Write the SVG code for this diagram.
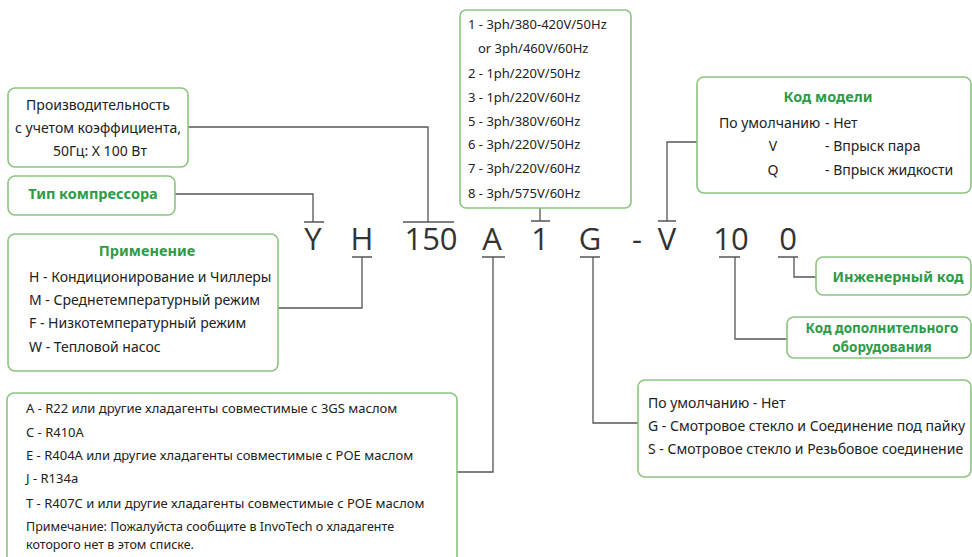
<svg xmlns="http://www.w3.org/2000/svg" width="972" height="557" viewBox="0 0 972 557">
<style>
.box{fill:#fff;stroke:#8cc47f;stroke-width:1.6}
.t{font-family:"Noto Sans","Open Sans","DejaVu Sans",sans-serif;font-size:14px;fill:#222}
.s{font-size:13px}
.n{font-size:12.5px}
.g{font-family:"Noto Sans","Open Sans","DejaVu Sans",sans-serif;font-size:14.5px;font-weight:bold;fill:#2e9b46}
.g2{font-size:13.5px}
.c{font-family:"Open Sans","Noto Sans",sans-serif;font-size:31px;font-weight:400;fill:#333}
.m{text-anchor:middle}
.ln{fill:none;stroke:#555;stroke-width:1.3}
</style>
<rect width="972" height="557" fill="#fff"/>
<g id="connectors">
<path class="ln" d="M188 127 H428 V222 M403 222 H454"/>
<path class="ln" d="M175 194 H313 V222 M304 222 H324"/>
<path class="ln" d="M352 257 H372 M362 257 V308 H278"/>
<path class="ln" d="M540 208 V221 M531 221 H550"/>
<path class="ln" d="M482 257 H505 M493 257 V472 H457"/>
<path class="ln" d="M580 257 H600 M593 257 V423 H638"/>
<path class="ln" d="M658 221 H676 M667 221 V142 H697"/>
<path class="ln" d="M719 257 H740 M735 257 V339 H787"/>
<path class="ln" d="M778 257 H798 M794 257 V277 H816"/>
</g>
<g id="code">
<text class="c m" x="313" y="250">Y</text>
<text class="c m" x="362" y="250">H</text>
<text class="c m" x="431" y="250">150</text>
<text class="c m" x="492" y="250">A</text>
<text class="c m" x="540" y="250">1</text>
<text class="c m" x="590" y="250">G</text>
<text class="c m" x="637" y="250">-</text>
<text class="c m" x="667" y="250">V</text>
<text class="c m" x="731" y="250">10</text>
<text class="c m" x="788" y="250">0</text>
</g>
<g id="capacity">
<rect class="box" x="8" y="88" width="180" height="79" rx="7"/>
<text class="t m" x="98" y="110">Производительность</text>
<text class="t m" x="98" y="133">с учетом коэффициента,</text>
<text class="t m" x="100" y="156">50Гц: X 100 Вт</text>
</g>
<g id="compressor-type">
<rect class="box" x="8" y="176" width="167" height="39" rx="7"/>
<text class="g m" x="93" y="199">Тип компрессора</text>
</g>
<g id="application">
<rect class="box" x="8" y="234" width="270" height="137" rx="7"/>
<text class="g m" x="147" y="256">Применение</text>
<text class="t" x="29" y="282">H - Кондиционирование и Чиллеры</text>
<text class="t" x="29" y="305">M - Среднетемпературный режим</text>
<text class="t" x="29" y="328">F - Низкотемпературный режим</text>
<text class="t" x="29" y="352">W - Тепловой насос</text>
</g>
<g id="power">
<rect class="box" x="460" y="10" width="171" height="198" rx="6"/>
<text class="t s" x="468" y="29">1 - 3ph/380-420V/50Hz</text>
<text class="t s" x="478" y="53">or 3ph/460V/60Hz</text>
<text class="t s" x="468" y="78">2 - 1ph/220V/50Hz</text>
<text class="t s" x="468" y="102">3 - 1ph/220V/60Hz</text>
<text class="t s" x="468" y="126">5 - 3ph/380V/60Hz</text>
<text class="t s" x="468" y="149">6 - 3ph/220V/50Hz</text>
<text class="t s" x="468" y="173">7 - 3ph/220V/60Hz</text>
<text class="t s" x="468" y="198">8 - 3ph/575V/60Hz</text>
</g>
<g id="model-code">
<rect class="box" x="697" y="77" width="274" height="116" rx="7"/>
<text class="g m" x="828" y="102">Код модели</text>
<text class="t" x="719" y="128" font-size="13.5">По умолчанию</text>
<text class="t" x="825" y="128">- Нет</text>
<text class="t m" x="773" y="151">V</text>
<text class="t" x="825" y="151">- Впрыск пара</text>
<text class="t m" x="773" y="175">Q</text>
<text class="t" x="825" y="175">- Впрыск жидкости</text>
</g>
<g id="engineering-code">
<rect class="box" x="816" y="257" width="155" height="38" rx="7"/>
<text class="g m" x="898" y="282">Инженерный код</text>
</g>
<g id="option-code">
<rect class="box" x="787" y="317" width="184" height="41" rx="7"/>
<text class="g g2 m" x="882" y="333">Код дополнительного</text>
<text class="g g2 m" x="882" y="352">оборудования</text>
</g>
<g id="sight-glass">
<rect class="box" x="638" y="380" width="333" height="97" rx="7"/>
<text class="t" x="648" y="408">По умолчанию - Нет</text>
<text class="t" x="648" y="431">G - Смотровое стекло и Соединение под пайку</text>
<text class="t" x="648" y="454">S - Смотровое стекло и Резьбовое соединение</text>
</g>
<g id="refrigerant">
<rect class="box" x="7" y="393" width="450" height="175" rx="7"/>
<text class="t s" x="26" y="413">A - R22 или другие хладагенты  совместимые с 3GS маслом</text>
<text class="t s" x="26" y="437">C - R410A</text>
<text class="t s" x="26" y="460">E  - R404A или другие хладагенты совместимые с POE маслом</text>
<text class="t s" x="26" y="483">J   - R134a</text>
<text class="t s" x="26" y="508">T  - R407C и или другие хладагенты совместимые с POE маслом</text>
<text class="t n" x="26" y="531">Примечание: Пожалуйста сообщите в InvoTech о хладагенте</text>
<text class="t n" x="26" y="549">которого нет в этом списке.</text>
</g>
</svg>
